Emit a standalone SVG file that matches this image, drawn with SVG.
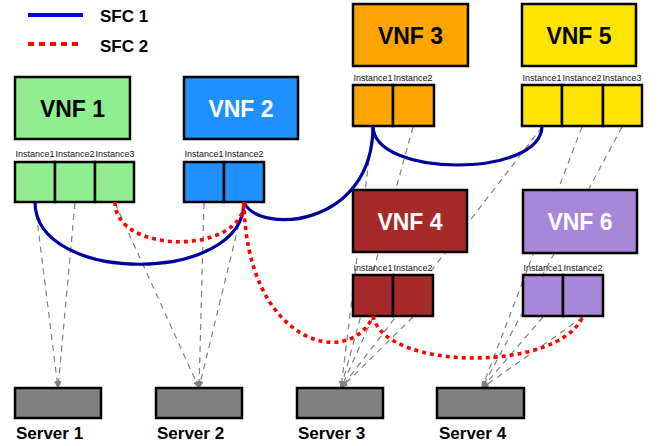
<svg xmlns="http://www.w3.org/2000/svg" width="660" height="446" viewBox="0 0 660 446">
<style>
text{font-family:"Liberation Sans",Arial,sans-serif}
.box{stroke:#000;stroke-width:2.5}
.vl{font-size:23px;font-weight:bold;text-anchor:middle}
.il{font-size:9px;text-anchor:middle;fill:#111}
.sl{font-size:17px;font-weight:bold}
.map{fill:none;stroke:#808080;stroke-width:1.2;stroke-dasharray:6,5}
.sfc1{fill:none;stroke:#00009c;stroke-width:3.2}
.sfc2{fill:none;stroke:#ff0000;stroke-width:3.6;stroke-dasharray:4,4}
.srv{fill:#808080;stroke:#000;stroke-width:2.5}
</style>
<defs>
<marker id="ah" markerWidth="8" markerHeight="6" refX="7" refY="3" orient="auto" markerUnits="userSpaceOnUse">
<path d="M0,0 L8,3 L0,6 z" fill="#808080"/>
</marker>
</defs>
<g id="legend">
<line x1="28" y1="15" x2="83" y2="15" stroke="#0000ff" stroke-width="4"/>
<text x="100" y="22" class="sl">SFC 1</text>
<line x1="28" y1="44" x2="80" y2="44" stroke="#ff0000" stroke-width="4" stroke-dasharray="6,5"/>
<text x="100" y="52" class="sl">SFC 2</text>
</g>
<g id="mappings">
<line class="map" x1="35" y1="203" x2="58" y2="388" marker-end="url(#ah)"/>
<line class="map" x1="75" y1="203" x2="58" y2="388" marker-end="url(#ah)"/>
<line class="map" x1="115" y1="203" x2="199" y2="388" marker-end="url(#ah)"/>
<line class="map" x1="204" y1="203" x2="199" y2="388" marker-end="url(#ah)"/>
<line class="map" x1="244" y1="203" x2="199" y2="388" marker-end="url(#ah)"/>
<line class="map" x1="373" y1="127" x2="341" y2="388" marker-end="url(#ah)"/>
<line class="map" x1="413" y1="127" x2="341" y2="388" marker-end="url(#ah)"/>
<line class="map" x1="542" y1="127" x2="341" y2="388" marker-end="url(#ah)"/>
<line class="map" x1="373" y1="317" x2="341" y2="388" marker-end="url(#ah)"/>
<line class="map" x1="413" y1="317" x2="341" y2="388" marker-end="url(#ah)"/>
<line class="map" x1="582" y1="127" x2="482" y2="388" marker-end="url(#ah)"/>
<line class="map" x1="622" y1="127" x2="482" y2="388" marker-end="url(#ah)"/>
<line class="map" x1="543" y1="317" x2="482" y2="388" marker-end="url(#ah)"/>
<line class="map" x1="583" y1="317" x2="482" y2="388" marker-end="url(#ah)"/>
</g>
<g id="vnf1">
<rect class="box" x="15" y="77" width="115" height="62" fill="#90ee90"/>
<text class="vl" x="72.5" y="116.5" fill="#000">VNF 1</text>
<text class="il" x="35" y="157">Instance1</text>
<text class="il" x="75" y="157">Instance2</text>
<text class="il" x="115" y="157">Instance3</text>
<rect class="box" x="15" y="162" width="40" height="40" fill="#90ee90"/>
<rect class="box" x="55" y="162" width="40" height="40" fill="#90ee90"/>
<rect class="box" x="95" y="162" width="39" height="40" fill="#90ee90"/>
</g>
<g id="vnf2">
<rect class="box" x="184" y="77" width="114" height="62" fill="#1e90ff"/>
<text class="vl" x="241" y="116.5" fill="#fff">VNF 2</text>
<text class="il" x="204" y="157">Instance1</text>
<text class="il" x="244" y="157">Instance2</text>
<rect class="box" x="184" y="162" width="40" height="40" fill="#1e90ff"/>
<rect class="box" x="224" y="162" width="40" height="40" fill="#1e90ff"/>
</g>
<g id="vnf3">
<rect class="box" x="353" y="4" width="115" height="62" fill="#ffa500"/>
<text class="vl" x="410.5" y="43.5" fill="#000">VNF 3</text>
<text class="il" x="373" y="81">Instance1</text>
<text class="il" x="413" y="81">Instance2</text>
<rect class="box" x="353" y="85" width="40" height="41" fill="#ffa500"/>
<rect class="box" x="393" y="85" width="41" height="41" fill="#ffa500"/>
</g>
<g id="vnf5">
<rect class="box" x="522" y="4" width="114" height="62" fill="#ffe400"/>
<text class="vl" x="579" y="43.5" fill="#000">VNF 5</text>
<text class="il" x="542" y="81">Instance1</text>
<text class="il" x="582" y="81">Instance2</text>
<text class="il" x="622" y="81">Instance3</text>
<rect class="box" x="522" y="85" width="40" height="41" fill="#ffe400"/>
<rect class="box" x="562" y="85" width="41" height="41" fill="#ffe400"/>
<rect class="box" x="603" y="85" width="39" height="41" fill="#ffe400"/>
</g>
<g id="vnf4">
<rect class="box" x="353" y="190" width="114" height="62" fill="#a52a2a"/>
<text class="vl" x="410" y="229.5" fill="#fff">VNF 4</text>
<text class="il" x="373" y="271">Instance1</text>
<text class="il" x="413" y="271">Instance2</text>
<rect class="box" x="353" y="275" width="40" height="41" fill="#a52a2a"/>
<rect class="box" x="393" y="275" width="40" height="41" fill="#a52a2a"/>
</g>
<g id="vnf6">
<rect class="box" x="523" y="190" width="114" height="63" fill="#a886d8"/>
<text class="vl" x="580" y="229.5" fill="#fff">VNF 6</text>
<text class="il" x="543" y="271">Instance1</text>
<text class="il" x="583" y="271">Instance2</text>
<rect class="box" x="523" y="275" width="40" height="41" fill="#a886d8"/>
<rect class="box" x="563" y="275" width="40" height="41" fill="#a886d8"/>
</g>
<g id="server1">
<rect class="srv" x="15" y="388" width="86" height="30"/>
<text class="sl" x="16" y="439">Server 1</text>
</g>
<g id="server2">
<rect class="srv" x="156" y="388" width="86" height="30"/>
<text class="sl" x="157" y="439">Server 2</text>
</g>
<g id="server3">
<rect class="srv" x="297" y="388" width="86" height="30"/>
<text class="sl" x="298" y="439">Server 3</text>
</g>
<g id="server4">
<rect class="srv" x="437" y="388" width="87" height="30"/>
<text class="sl" x="439" y="439">Server 4</text>
</g>
<g id="connectors">
<path class="sfc1" d="M35,202 C35,285 244,285 244,202"/>
<path class="sfc1" d="M244,202 C258,235 373,228 373,126"/>
<path class="sfc1" d="M373,126 C373,178 542,178 542,126"/>
<path class="sfc2" d="M115,202 C115,255 244,255 244,202"/>
<path class="sfc2" d="M244,202 C246,345 350,370 373,316"/>
<path class="sfc2" d="M373,316 C385,372 560,372 583,316"/>
</g>
</svg>
